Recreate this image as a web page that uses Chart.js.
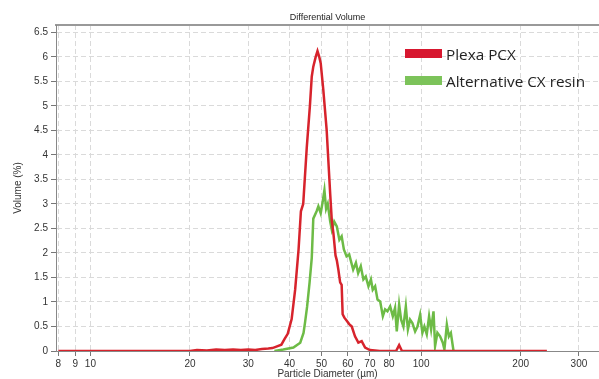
<!DOCTYPE html>
<html>
<head>
<meta charset="utf-8">
<script src="https://cdn.jsdelivr.net/npm/chart.js@4.4.1/dist/chart.umd.min.js"></script>
<style>
  html, body { margin: 0; padding: 0; background: #fff; }
  #wrap { position: relative; width: 599px; height: 379px; }
  #legend { position: absolute; left: 405px; top: 40px; font-family: "Open Sans", sans-serif; font-size: 15.3px; color: #222; }
  .item { display: flex; align-items: center; height: 27px; }
  .swatch { width: 37px; height: 9px; margin-right: 4px; }
</style>
</head>
<body>
<div id="wrap">
  <canvas id="chart"></canvas>
  <div id="legend"></div>
</div>
<script>
// particle diameter (um) / volume (%)
const plexaX = [8, 20, 21, 22.5, 24, 25.5, 27, 28.5, 30, 31.5, 33, 34.5, 35.5, 36.5, 37.8, 38.7, 39.5, 40.6, 41.6, 42.6, 43.3, 44.0, 45.1, 46.1, 46.7, 47.2, 48.0, 48.6, 49.2, 49.7, 50.6, 51.8, 52.5, 53.1, 53.7, 54.3, 55.1, 55.6, 56.2, 56.9, 57.5, 57.9, 58.6, 59.5, 60.6, 61.7, 63.1, 64.6, 66.1, 67.7, 70, 75, 84, 85.8, 87.5, 120, 240];
const plexaY = [0, 0, 0.02, 0.01, 0.03, 0.02, 0.03, 0.02, 0.03, 0.02, 0.04, 0.05, 0.06, 0.09, 0.13, 0.25, 0.35, 0.65, 1.25, 2.07, 2.85, 3.0, 4.15, 5.0, 5.6, 5.8, 6.0, 6.12, 6.0, 5.87, 5.33, 4.51, 3.8, 3.2, 2.65, 2.4, 1.95, 1.85, 1.66, 1.4, 1.35, 0.75, 0.68, 0.62, 0.55, 0.5, 0.3, 0.17, 0.2, 0.07, 0.02, 0, 0, 0.12, 0, 0, 0];

const altX = [36, 38.3, 41.1, 43.1, 44.1, 44.6, 45.2, 46.0, 46.7, 47.2, 48.3, 48.9, 49.7, 50.4, 51.0, 51.6, 52.2, 53.1, 53.7, 54.6, 55.6, 56.6, 57.5, 58.4, 59.5, 60.6, 61.2, 62.3, 63.5, 64.5, 65.7, 66.9, 68, 69.3, 70.5, 71.4, 72.6, 73.8, 75.2, 76.6, 77.8, 79.1, 80.6, 82.1, 83.4, 84.4, 85.8, 87, 88.4, 89.9, 91.2, 92.6, 94.1, 95.9, 97.5, 99.3, 100.9, 102.3, 104, 105.7, 107.2, 109, 110.2, 112, 114.1, 116.3, 117.6, 119.6, 121.3, 123, 125.3];
const altY = [0, 0.03, 0.07, 0.17, 0.37, 0.6, 0.9, 1.4, 1.9, 2.7, 2.85, 2.95, 2.81, 3.05, 3.28, 2.9, 3.0, 2.64, 2.47, 2.64, 2.54, 2.27, 2.34, 2.07, 1.93, 1.97, 1.86, 1.66, 1.8, 1.59, 1.73, 1.46, 1.52, 1.32, 1.46, 1.25, 1.32, 1.05, 1.01, 0.71, 0.85, 0.81, 0.91, 0.71, 0.88, 0.4, 0.95, 0.64, 0.5, 0.91, 0.44, 0.64, 0.57, 0.4, 0.5, 0.74, 0.37, 0.5, 0.34, 0.71, 0.44, 0.81, 0.1, 0.37, 0.3, 0.17, 0.03, 0.54, 0.3, 0.37, 0];

const xTicks = [8, 9, 10, 20, 30, 40, 50, 60, 70, 80, 100, 200, 300];
const yTicks = [0, 0.5, 1, 1.5, 2, 2.5, 3, 3.5, 4, 4.5, 5, 5.5, 6, 6.5];

const seriesNames = ['Plexa PCX', 'Alternative CX resin'];

const toPoints = (xs, ys) => xs.map((x, i) => ({ x: x, y: ys[i] }));

const tickFont = { family: '"Liberation Sans", Arial, sans-serif', size: 10 };
const gridStyle = { color: '#dadada', tickColor: '#777', tickLength: 5 };
const axisBorder = { color: '#888', width: 1, dash: [5, 3] };

const chart = new Chart(document.getElementById('chart'), {
  type: 'line',
  data: {
    datasets: [
      {
        label: seriesNames[0],
        data: toPoints(plexaX, plexaY),
        borderColor: '#d7232c',
        backgroundColor: '#d7172f',
        borderWidth: 2.5,
        pointRadius: 0,
        tension: 0
      },
      {
        label: seriesNames[1],
        data: toPoints(altX, altY),
        borderColor: '#6dbb46',
        backgroundColor: '#7cc35a',
        borderWidth: 2.5,
        pointRadius: 0,
        tension: 0
      }
    ]
  },
  options: {
    responsive: true,
    maintainAspectRatio: false,
    animation: false,
    layout: { padding: 0 },
    plugins: {
      legend: { display: false },
      tooltip: { enabled: false }
    },
    scales: {
      x: {
        type: 'logarithmic',
        min: 7.87,
        max: 345,
        afterBuildTicks: (axis) => { axis.ticks = xTicks.map(v => ({ value: v })); },
        afterFit: (axis) => { axis.height = 28; },
        ticks: { font: tickFont, color: '#333', padding: 2, maxRotation: 0, autoSkip: false, callback: (v) => String(v) },
        grid: gridStyle,
        border: axisBorder,
        title: { display: true, text: 'Particle Diameter (µm)', font: { family: tickFont.family, size: 10, lineHeight: 1 }, color: '#333', padding: 0 }
      },
      x2: {
        type: 'linear',
        position: 'top',
        afterFit: (axis) => { axis.height = 25; },
        ticks: { display: false },
        grid: { display: false },
        border: { color: '#999', width: 2 },
        title: { display: true, text: 'Differential Volume', font: { family: tickFont.family, size: 9 }, color: '#222', padding: { top: 12, bottom: 0 } }
      },
      y: {
        min: 0,
        max: 6.65,
        afterBuildTicks: (axis) => { axis.ticks = yTicks.map(v => ({ value: v })); },
        afterFit: (axis) => { axis.width = 56; },
        ticks: { font: tickFont, color: '#333', padding: 3, callback: (v) => String(v) },
        grid: gridStyle,
        border: axisBorder,
        title: { display: true, text: 'Volume (%)', font: { family: tickFont.family, size: 10 }, color: '#333', padding: { top: 12, bottom: 0 } }
      }
    }
  }
});

// legend drawn as html, built from the datasets
const legendEl = document.getElementById('legend');
chart.data.datasets.forEach(ds => {
  const row = document.createElement('div');
  row.className = 'item';
  const sw = document.createElement('span');
  sw.className = 'swatch';
  sw.style.background = ds.backgroundColor;
  const txt = document.createElement('span');
  txt.textContent = ds.label;
  row.appendChild(sw);
  row.appendChild(txt);
  legendEl.appendChild(row);
});
</script>
</body>
</html>
